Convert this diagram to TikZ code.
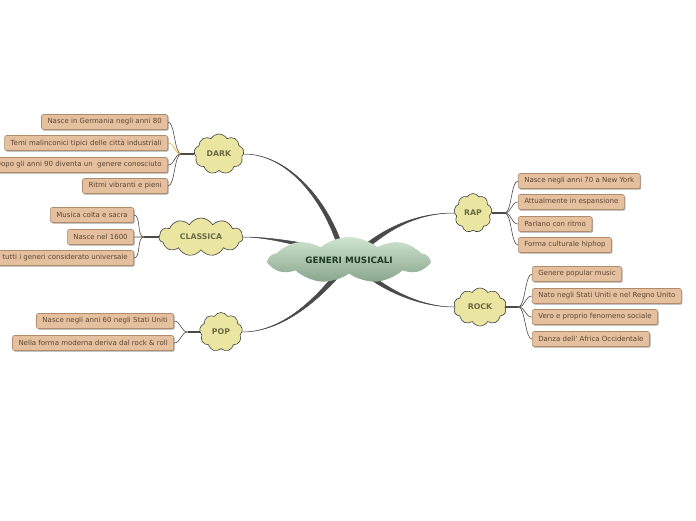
\documentclass[tikz,border=0pt]{standalone}
\usepackage{fontspec}
\setmainfont{DejaVu Sans}
\usetikzlibrary{shapes.symbols,shadows,calc,backgrounds}
\definecolor{leaffill}{HTML}{E4C09F}
\definecolor{leafdraw}{HTML}{B08C6C}
\definecolor{leaftext}{HTML}{5C4632}
\definecolor{cloudfill}{HTML}{EAE6A2}
\definecolor{cloudtext}{HTML}{6B6A46}
\definecolor{branchcol}{HTML}{4A4A4A}
\definecolor{subcol}{HTML}{4E4A44}
\definecolor{orangecol}{HTML}{F0B030}
\definecolor{maintop}{HTML}{CFE4CF}
\definecolor{mainbot}{HTML}{88A68C}
\definecolor{maintext}{HTML}{1E3A22}
\tikzset{
  leaf/.style={rectangle, rounded corners=2pt, fill=leaffill, draw=leafdraw, line width=0.6pt,
    text=leaftext, font=\fontsize{7}{8}\selectfont, minimum height=15pt, inner xsep=6pt, inner ysep=0pt,
    drop shadow={shadow xshift=1pt, shadow yshift=-1.2pt, opacity=0.35, fill=black}},
  subcloud/.style={cloud, cloud puffs=9, cloud puff arc=120, cloud ignores aspect, fill=cloudfill,
    draw=black!75, line width=0.6pt, text=cloudtext, font=\bfseries\fontsize{7.8}{9}\selectfont, inner sep=0pt},
  maincloud/.style={cloud, cloud puffs=9, cloud puff arc=80, cloud ignores aspect,
    top color=maintop, bottom color=mainbot, draw=none, text=maintext,
    font=\bfseries\fontsize{8.8}{10}\selectfont, inner sep=0pt, minimum width=160pt, minimum height=46pt},
  twig/.style={subcol, line width=0.6pt},
  stem/.style={subcol, line width=1.6pt},
  branch/.style={fill=branchcol, draw=branchcol, line width=0.5pt}
}
\begin{document}
\begin{tikzpicture}[x=1pt,y=-1pt]
\useasboundingbox (0,0) rectangle (696,520);
% central
\node[maincloud] (c) at (349,260) {GENERI MUSICALI};
% main clouds
\node[subcloud, minimum width=50pt, minimum height=40pt] (dark) at (219,154) {DARK};
\node[subcloud, minimum width=84pt, minimum height=38pt, cloud puffs=11] (classica) at (201,237) {CLASSICA};
\node[subcloud, minimum width=43pt, minimum height=39pt] (pop) at (221,332) {POP};
\node[subcloud, minimum width=38pt, minimum height=39pt] (rap) at (473,213) {RAP};
\node[subcloud, minimum width=53pt, minimum height=38pt, cloud puffs=10] (rock) at (480,307) {ROCK};

% leaves
\node[leaf, anchor=east] (d1) at (168,122) {Nasce in Germania negli anni 80};
\node[leaf, anchor=east] (d2) at (168,143) {Temi malinconici tipici delle città industriali};
\node[leaf, anchor=east] (d3) at (168,165) {Dopo gli anni 90 diventa un\ \ genere conosciuto};
\node[leaf, anchor=east] (d4) at (168,186) {Ritmi vibranti e pieni};

\node[leaf, anchor=east] (k1) at (134,215) {Musica colta e sacra};
\node[leaf, anchor=east] (k2) at (134,237) {Nasce nel 1600};
\node[leaf, anchor=east] (k3) at (134,258) {tutti i generi considerato universale};

\node[leaf, anchor=east] (p1) at (174,321) {Nasce negli anni 60 negli Stati Uniti};
\node[leaf, anchor=east] (p2) at (174,343) {Nella forma moderna deriva dal rock \& roll};

\node[leaf, anchor=west] (r1) at (518,181) {Nasce negli anni 70 a New York};
\node[leaf, anchor=west] (r2) at (518,202) {Attualmente in espansione};
\node[leaf, anchor=west] (r3) at (518,224) {Parlano con ritmo};
\node[leaf, anchor=west] (r4) at (518,245) {Forma culturale hiphop};

\node[leaf, anchor=west] (o1) at (532,274) {Genere popular music};
\node[leaf, anchor=west] (o2) at (532,296) {Nato negli Stati Uniti e nel Regno Unito};
\node[leaf, anchor=west] (o3) at (532,317) {Vero e proprio fenomeno sociale};
\node[leaf, anchor=west] (o4) at (532,339) {Danza dell' Africa Occidentale};

\begin{scope}[on background layer]
% main branches (tapered)
\path[branch] (dark.east) .. controls (288,154) and ($(325,200)+(1.8,-0.6)$) .. ($(340,246)+(2.2,-0.8)$)
  -- ($(340,246)+(-2.2,0.8)$) .. controls ($(325,200)+(-1.8,0.6)$) and (288,154) .. (dark.east);
\path[branch] (classica.east) .. controls (265,237) and ($(290,242)+(0,-1.5)$) .. ($(312,247)+(0,-2.2)$)
  -- ($(312,247)+(0,2.2)$) .. controls ($(290,242)+(0,1.5)$) and (265,237) .. (classica.east);
\path[branch] (pop.east) .. controls (285,332) and ($(320,295)+(1.5,1.2)$) .. ($(338,274)+(1.9,1.6)$)
  -- ($(338,274)+(-1.9,-1.6)$) .. controls ($(320,295)+(-1.5,-1.2)$) and (285,332) .. (pop.east);
\path[branch] (rap.west) .. controls (415,213) and ($(385,230)+(1.3,1.4)$) .. ($(362,250)+(1.7,1.8)$)
  -- ($(362,250)+(-1.7,-1.8)$) .. controls ($(385,230)+(-1.3,-1.4)$) and (415,213) .. (rap.west);
\path[branch] (rock.west) .. controls (420,307) and ($(385,290)+(-1.2,1.4)$) .. ($(362,270)+(-1.6,1.8)$)
  -- ($(362,270)+(1.6,-1.8)$) .. controls ($(385,290)+(1.2,-1.4)$) and (420,307) .. (rock.west);

% sub branches
\coordinate (dj) at ($(dark.west)+(-13,0)$);
\draw[stem] (dark.west) -- (dj);
\draw[twig] (dj) .. controls +(-7,0) and +(7,0) .. (d1.east);
\draw[twig, orangecol] (dj) .. controls +(-7,0) and +(7,0) .. (d2.east);
\draw[twig] (dj) .. controls +(-7,0) and +(7,0) .. (d3.east);
\draw[twig] (dj) .. controls +(-7,0) and +(7,0) .. (d4.east);

\coordinate (kj) at ($(classica.west)+(-15,0)$);
\draw[stem] (classica.west) -- (kj);
\draw[twig] (kj) .. controls +(-7,0) and +(7,0) .. (k1.east);
\draw[twig] (kj) .. controls +(-7,0) and +(7,0) .. (k2.east);
\draw[twig] (kj) .. controls +(-7,0) and +(7,0) .. (k3.east);

\coordinate (pj) at ($(pop.west)+(-12,0)$);
\draw[stem] (pop.west) -- (pj);
\draw[twig] (pj) .. controls +(-7,0) and +(7,0) .. (p1.east);
\draw[twig] (pj) .. controls +(-7,0) and +(7,0) .. (p2.east);

\coordinate (rj) at ($(rap.east)+(13,0)$);
\draw[stem] (rap.east) -- (rj);
\draw[twig] (rj) .. controls +(7,0) and +(-7,0) .. (r1.west);
\draw[twig] (rj) .. controls +(7,0) and +(-7,0) .. (r2.west);
\draw[twig] (rj) .. controls +(7,0) and +(-7,0) .. (r3.west);
\draw[twig] (rj) .. controls +(7,0) and +(-7,0) .. (r4.west);

\coordinate (oj) at ($(rock.east)+(13,0)$);
\draw[stem] (rock.east) -- (oj);
\draw[twig] (oj) .. controls +(7,0) and +(-7,0) .. (o1.west);
\draw[twig] (oj) .. controls +(7,0) and +(-7,0) .. (o2.west);
\draw[twig] (oj) .. controls +(7,0) and +(-7,0) .. (o3.west);
\draw[twig] (oj) .. controls +(7,0) and +(-7,0) .. (o4.west);
\end{scope}
\end{tikzpicture}
\end{document}
